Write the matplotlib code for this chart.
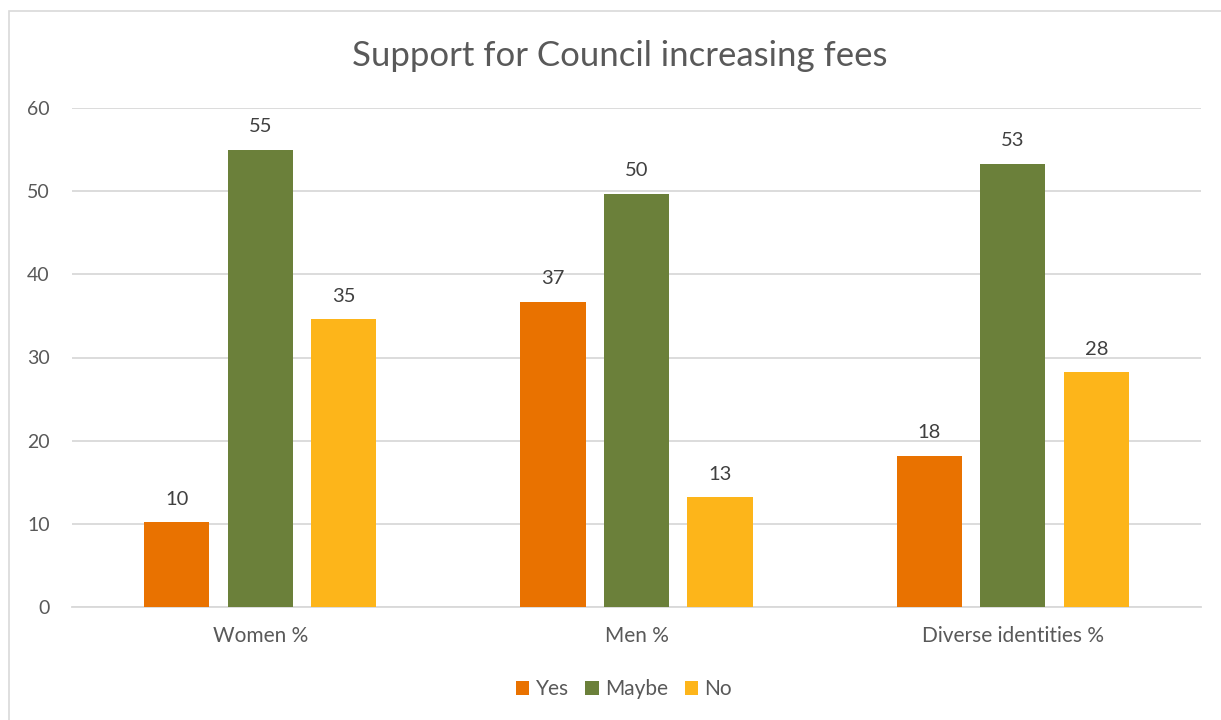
import numpy as np
import matplotlib
matplotlib.use("Agg")
import matplotlib.pyplot as plt
from matplotlib.patches import Rectangle

plt.rcParams['font.family'] = ['Lato', 'DejaVu Sans']

# survey results (percent of respondents)
groups = ["Women %", "Men %", "Diverse identities %"]
answers = ["Yes", "Maybe", "No"]
yes_pct = [10.2, 36.7, 18.2]
maybe_pct = [55.0, 49.7, 53.3]
no_pct = [34.6, 13.2, 28.2]

colors = ["#E97200", "#6B803A", "#FDB51A"]
txt_dark = "#404040"
txt_grey = "#595959"

fig = plt.figure(figsize=(12.21, 7.2), dpi=100)
ax = fig.add_axes([72 / 1221, 113 / 720, 1129 / 1221, 499 / 720])

# light frame around the chart area
fig.patches.append(Rectangle((9 / 1221, -0.1), 1.2, 0.1 + 709 / 720,
                             transform=fig.transFigure, fill=False,
                             edgecolor="#D9D9D9", linewidth=1.2))

x = np.arange(len(groups))
width = 0.173
step = 0.222
series = [yes_pct, maybe_pct, no_pct]
for i, (name, vals) in enumerate(zip(answers, series)):
    bars = ax.bar(x + (i - 1) * step, vals, width, color=colors[i], label=name, zorder=3)
    for b, v in zip(bars, vals):
        ax.annotate(f"{v:.0f}", (b.get_x() + b.get_width() / 2, v),
                    xytext=(0, 12.5), textcoords="offset points",
                    ha="center", va="baseline", fontsize=14.5, color=txt_dark)

ax.set_xlim(-0.5, 2.5)
ax.set_ylim(0, 60)
ax.set_yticks(range(0, 61, 10))
ax.yaxis.grid(True, color="#D9D9D9", linewidth=1.3, zorder=0)
ax.set_axisbelow(True)
for s in ["top", "right", "left"]:
    ax.spines[s].set_visible(False)
ax.spines["bottom"].set_color("#D9D9D9")
ax.spines["bottom"].set_linewidth(1.3)
ax.tick_params(axis="y", length=0, pad=16, labelsize=14, labelcolor=txt_grey)
ax.tick_params(axis="x", length=0, pad=14, labelsize=15, labelcolor=txt_grey)
ax.set_xticks(x)
ax.set_xticklabels(groups)

fig.text(620 / 1221, 1 - 56 / 720, "Support for Council increasing fees",
         ha="center", va="center", fontsize=25, color=txt_grey)

fig.legend(loc="center", bbox_to_anchor=(624 / 1221, 1 - 689 / 720), ncol=3,
           frameon=False, fontsize=15, labelcolor=txt_grey,
           handlelength=0.65, handleheight=0.65, handletextpad=0.3,
           columnspacing=0.8)

fig.savefig("out.png", dpi=100)
